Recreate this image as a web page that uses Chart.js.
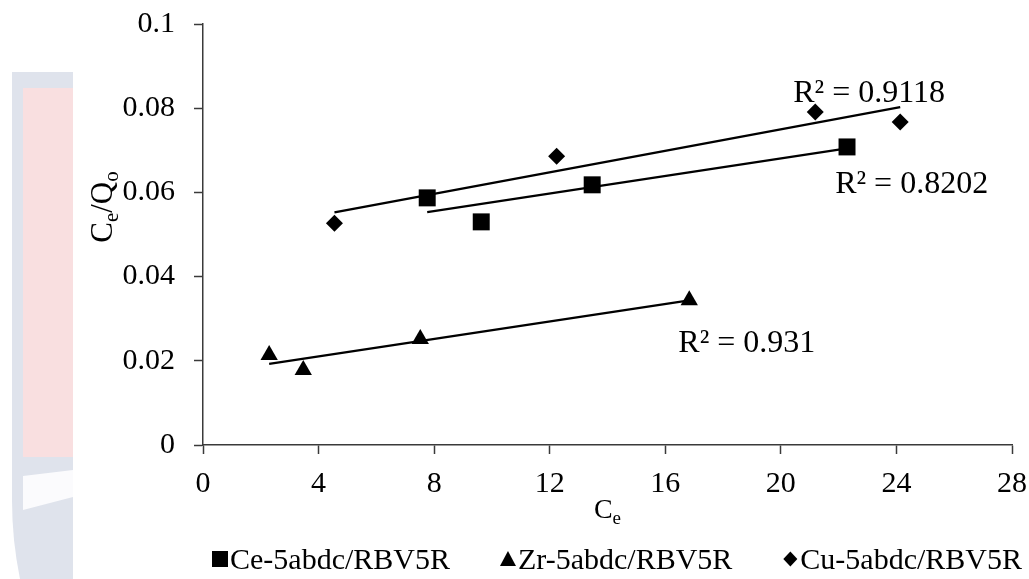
<!DOCTYPE html>
<html lang="en">
<head>
<meta charset="UTF-8">
<title>Ce/Zr/Cu-5abdc RBV5R linear fit</title>
<script src="https://cdn.jsdelivr.net/npm/chart.js"></script>
<style>
  html, body { margin: 0; padding: 0; background: #fff; }
  #wrap { width: 1029px; height: 579px; position: relative; }
</style>
</head>
<body>
<div id="wrap"><canvas id="isotherm"></canvas></div>
<script>
// measured Ce vs Ce/Qo for each adsorbent
const ceX = [7.76, 9.63, 13.47, 22.29];
const ceY = [0.0587, 0.0530, 0.0618, 0.0708];
const zrX = [2.29, 3.47, 7.52, 16.83];
const zrY = [0.0214, 0.0178, 0.0252, 0.0344];
const cuX = [4.55, 12.24, 21.19, 24.13];
const cuY = [0.0527, 0.0686, 0.0791, 0.0767];

const seriesNames = ['Ce-5abdc/RBV5R', 'Zr-5abdc/RBV5R', 'Cu-5abdc/RBV5R'];
const r2Labels = ['R² = 0.8202', 'R² = 0.931', 'R² = 0.9118'];
const xTicks = [0, 4, 8, 12, 16, 20, 24, 28];
const yTickLabels = ['0', '0.02', '0.04', '0.06', '0.08', '0.1'];

// where each R² text sits (data units, left/baseline)
const r2At = [[21.88, 0.0599], [16.45, 0.0221], [20.43, 0.0815]];

const SERIF = '"Liberation Serif", "Times New Roman", serif';
const AXIS = '#3a3a3a';

function pts(xs, ys) {
    return xs.map((x, i) => ({ x: x, y: ys[i] }));
}

// least squares line over the x-range of the series
function fit(xs, ys) {
    const n = xs.length;
    const mx = xs.reduce((a, b) => a + b, 0) / n;
    const my = ys.reduce((a, b) => a + b, 0) / n;
    let sxy = 0, sxx = 0;
    xs.forEach((x, i) => { sxy += (x - mx) * (ys[i] - my); sxx += (x - mx) * (x - mx); });
    const m = sxy / sxx, b = my - m * mx;
    const x0 = Math.min(...xs), x1 = Math.max(...xs);
    return [{ x: x0, y: m * x0 + b }, { x: x1, y: m * x1 + b }];
}

function markerSet(label, data, style, radius) {
    return {
        label: label, data: data, pointStyle: style, pointRadius: radius,
        backgroundColor: '#000', borderColor: '#000', borderWidth: 0, showLine: false
    };
}

function trendSet(data) {
    return {
        label: '', data: data, showLine: true, pointRadius: 0,
        borderColor: '#000', borderWidth: 2.3, fill: false
    };
}

// faint page decoration behind the plot
const backdrop = {
    id: 'backdrop',
    beforeDraw(chart) {
        const ctx = chart.ctx;
        ctx.save();
        ctx.fillStyle = '#fff';
        ctx.fillRect(0, 0, chart.width, chart.height);
        ctx.fillStyle = '#dfe3ec';
        ctx.beginPath();
        ctx.moveTo(12, 72); ctx.lineTo(73, 72); ctx.lineTo(73, 579); ctx.lineTo(20, 579);
        ctx.quadraticCurveTo(12, 540, 12, 500);
        ctx.closePath();
        ctx.fill();
        ctx.fillStyle = '#f9dfe0';
        ctx.fillRect(23, 88, 50, 369);
        ctx.fillStyle = '#fbfbfd';
        ctx.beginPath();
        ctx.moveTo(23, 476); ctx.lineTo(73, 470); ctx.lineTo(73, 497); ctx.lineTo(23, 510);
        ctx.closePath();
        ctx.fill();
        ctx.restore();
    }
};

// text with subscript runs, parts = [[text, isSub], ...]
function richWidth(ctx, parts, size) {
    let w = 0;
    parts.forEach(p => {
        ctx.font = (p[1] ? Math.round(size * 0.68) : size) + 'px ' + SERIF;
        w += ctx.measureText(p[0]).width;
    });
    return w;
}

function drawRich(ctx, parts, x, y, size) {
    parts.forEach(p => {
        ctx.font = (p[1] ? Math.round(size * 0.68) : size) + 'px ' + SERIF;
        ctx.fillText(p[0], x, p[1] ? y + size * 0.2 : y);
        x += ctx.measureText(p[0]).width;
    });
}

function drawMarker(ctx, style, cx, cy) {
    ctx.beginPath();
    if (style === 'rect') {
        ctx.rect(cx - 8, cy - 8, 16, 16);
    } else if (style === 'triangle') {
        ctx.moveTo(cx, cy - 8); ctx.lineTo(cx + 8, cy + 7); ctx.lineTo(cx - 8, cy + 7);
        ctx.closePath();
    } else {
        ctx.moveTo(cx, cy - 7.5); ctx.lineTo(cx + 7, cy); ctx.lineTo(cx, cy + 7.5); ctx.lineTo(cx - 7, cy);
        ctx.closePath();
    }
    ctx.fill();
}

const annotations = {
    id: 'annotations',
    afterDraw(chart) {
        const { ctx, chartArea, scales } = chart;
        ctx.save();
        ctx.fillStyle = '#000';
        ctx.textBaseline = 'alphabetic';
        ctx.textAlign = 'left';

        // R² beside each trend line
        ctx.font = '32px ' + SERIF;
        r2Labels.forEach((t, i) => {
            ctx.fillText(t, scales.x.getPixelForValue(r2At[i][0]), scales.y.getPixelForValue(r2At[i][1]));
        });

        // x title: Ce
        const xt = [['C', false], ['e', true]];
        const xw = richWidth(ctx, xt, 28);
        drawRich(ctx, xt, (chartArea.left + chartArea.right) / 2 - xw / 2, 518, 28);

        // y title: Ce/Qo
        const yt = [['C', false], ['e', true], ['/', false], ['Q', false], ['o', true]];
        const yw = richWidth(ctx, yt, 31);
        ctx.translate(112, 207);
        ctx.rotate(-Math.PI / 2);
        drawRich(ctx, yt, -yw / 2, 0, 31);
        ctx.setTransform(1, 0, 0, 1, 0, 0);

        // legend row
        const styles = ['rect', 'triangle', 'rectRot'];
        ctx.font = '30px ' + SERIF;
        const gap = 50, mark = 16, markGap = 2;
        const widths = seriesNames.map(n => mark + markGap + ctx.measureText(n).width);
        const total = widths.reduce((a, b) => a + b, 0) + gap * (widths.length - 1);
        let lx = 617 - total / 2;
        seriesNames.forEach((n, i) => {
            drawMarker(ctx, styles[i], lx + mark / 2, 559);
            ctx.fillText(n, lx + mark + markGap, 569);
            lx += widths[i] + gap;
        });
        ctx.restore();
    }
};

new Chart(document.getElementById('isotherm'), {
    type: 'scatter',
    data: {
        datasets: [
            markerSet(seriesNames[0], pts(ceX, ceY), 'rect', 12),
            markerSet(seriesNames[1], pts(zrX, zrY), 'triangle', 10),
            markerSet(seriesNames[2], pts(cuX, cuY), 'rectRot', 8.5),
            trendSet(fit(ceX, ceY)),
            trendSet(fit(zrX, zrY)),
            trendSet(fit(cuX, cuY))
        ]
    },
    options: {
        responsive: true,
        maintainAspectRatio: false,
        animation: false,
        events: [],
        layout: { padding: { left: 0, right: 17, top: 24, bottom: 0 } },
        plugins: {
            legend: { display: false },
            tooltip: { enabled: false }
        },
        scales: {
            x: {
                type: 'linear',
                min: xTicks[0],
                max: xTicks[xTicks.length - 1],
                afterBuildTicks: (scale) => { scale.ticks = xTicks.map(v => ({ value: v })); },
                afterFit: (scale) => {
                    scale.height = 134;
                    scale.paddingLeft = 0;
                    scale.paddingRight = 0;
                },
                border: { display: true, color: AXIS, width: 1.5 },
                grid: { drawOnChartArea: false, drawTicks: true, tickLength: 9, tickColor: AXIS, tickWidth: 1.5 },
                ticks: { color: '#000', padding: 12, maxRotation: 0, font: { family: SERIF, size: 30 } }
            },
            y: {
                type: 'linear',
                min: 0,
                max: 0.1,
                afterBuildTicks: (scale) => { scale.ticks = yTickLabels.map(t => ({ value: parseFloat(t) })); },
                afterFit: (scale) => {
                    scale.width = 203;
                    scale.paddingTop = 0;
                    scale.paddingBottom = 0;
                },
                border: { display: true, color: AXIS, width: 1.5 },
                grid: { drawOnChartArea: false, drawTicks: true, tickLength: 9, tickColor: AXIS, tickWidth: 1.5 },
                ticks: {
                    color: '#000', padding: 19, font: { family: SERIF, size: 30 },
                    callback: (v, i) => yTickLabels[i]
                }
            }
        }
    },
    plugins: [backdrop, annotations]
});
</script>
</body>
</html>
